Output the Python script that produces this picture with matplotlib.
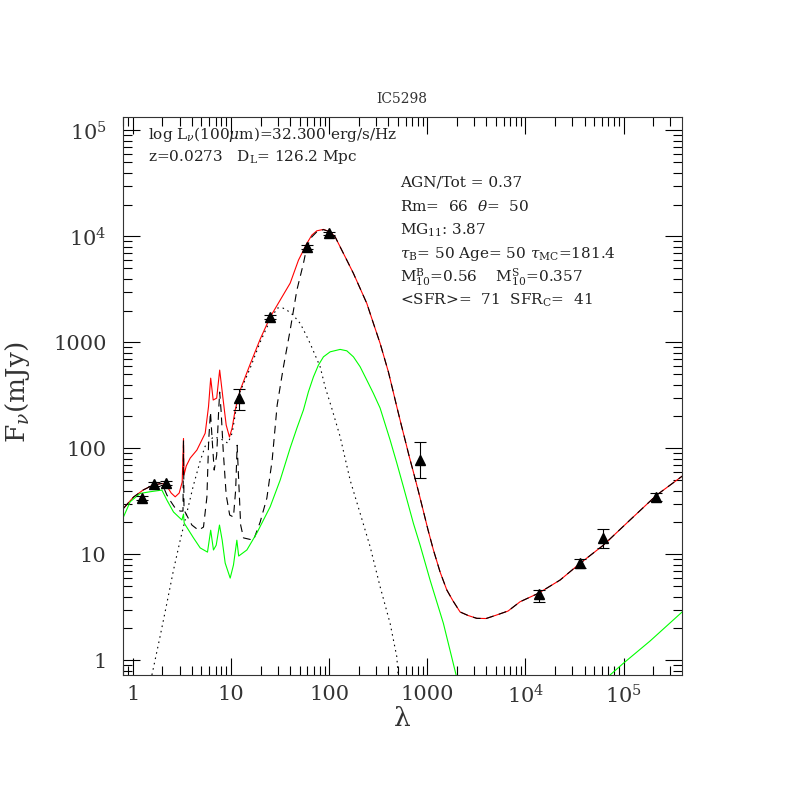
import numpy as np
import matplotlib
matplotlib.use('Agg')
from matplotlib import pyplot as plt
from matplotlib.ticker import FixedLocator, FixedFormatter, LogLocator, NullFormatter

plt.rcParams['font.family'] = ['DejaVu Serif']
plt.rcParams['mathtext.fontset'] = 'dejavuserif'

# observed photometry (micron, mJy)
lam_obs = [1.25, 1.65, 2.2, 12.0, 25.0, 60.0, 100.0, 850.0, 13600, 35700, 62000, 214000]
f_obs = [34.0, 46.0, 47.4, 296, 1722, 7980, 10670, 77.0, 4.22, 8.33, 14.2, 34.9]
f_hi = [35.5, 48.0, 49.5, 360, 1800, 8350, 11100, 114, 4.6, 8.95, 17.2, 37.6]
f_lo = [32.5, 44.0, 45.3, 230, 1650, 7600, 10250, 52.1, 3.57, 7.38, 11.4, 32.1]

# total model (red)
lam_tot = [0.804, 1.016, 1.276, 1.613, 1.978, 2.189, 2.46, 2.703, 2.968, 3.184, 3.283, 3.322,
           3.499, 3.842, 4.495, 5.461, 5.902, 6.214, 6.589, 7.152, 7.672, 8.329, 8.937, 9.654,
           10.28, 11.03, 12.41, 15.69, 19.84, 25.07, 31.7, 40.1, 48.7, 59.3, 66.6, 74.9, 87.5,
           102.3, 115.1, 129.4, 151.4, 176.8, 206.9, 242, 282.6, 330.6, 363, 401.8, 443, 489,
           541, 594, 653, 722, 806, 906, 1019, 1154, 1350, 1580, 1830, 2158, 2600, 3192, 3970,
           5103, 6650, 8810, 13530, 22510, 35970, 62140, 116200, 217300, 396100]
f_tot = [27.2, 34.7, 40.5, 45.1, 46.7, 45.1, 37.9, 34.9, 37.9, 48.1, 124, 56.0,
         68.1, 81.0, 96.4, 139, 247, 460, 286, 298, 548, 286, 166, 128,
         156, 230, 355, 624, 1074, 1733, 2507, 3625, 5972, 8590, 10290, 11300, 11650,
         11050, 9910, 7980, 5975, 4480, 3231, 2334, 1511, 979, 727, 525, 362, 247,
         169, 120, 84.5, 59.7, 40.4, 26.2, 16.9, 11.0, 6.81, 4.61, 3.63, 2.86, 2.65, 2.49, 2.48,
         2.68, 2.92, 3.57, 4.29, 5.72, 8.22, 12.2, 21.1, 36.3, 54.8]

# starburst (dashed), up to the far-IR peak
lam_sb = [0.804, 1.016, 1.276, 1.613, 1.978, 2.225, 2.46, 2.703, 3.039, 3.245, 3.283, 3.322,
          4.0, 4.667, 5.248, 5.684, 5.93, 6.183, 6.435, 6.745, 7.152, 7.494, 7.672, 7.947,
          8.329, 8.937, 9.701, 10.6, 11.16, 11.56, 11.98, 12.55, 13.41, 16.95, 19.84, 23.21,
          26.28, 29.54, 34.24, 40.08, 46.9, 54.7, 59.3, 66.6, 74.9, 87.5]
f_sb = [27.2, 34.7, 40.5, 45.1, 46.7, 36.3, 31.1, 27.3, 25.6, 25.6, 120, 26.2,
        18.9, 16.9, 18.1, 34.7, 120, 220, 120, 62.4, 86.4, 230, 340, 220,
        96.4, 36.3, 23.5, 22.5, 40.4, 107, 50.2, 18.9, 14.3, 13.6, 20.2, 34.0,
        77.6, 256, 589, 1306, 3113, 5559, 7980, 9900, 11050, 11590]

# AGN (dotted)
lam_agn = [1.565, 1.901, 2.225, 2.597, 3.039, 3.556, 4.122, 4.858, 5.461, 6.589, 7.762, 9.3,
           10.3, 11.84, 15.69, 19.84, 25.07, 29.54, 33.2, 37.09, 43.0, 50.7, 57.0, 64.0, 72.0,
           80.97, 91.1, 106.5, 129.4, 163.6, 206.9, 261.6, 330.6, 418, 489, 504]
f_agn = [0.727, 1.70, 3.47, 7.11, 13.6, 24.8, 44.0, 76.0, 105, 128, 124, 112,
         140, 311, 572, 1007, 1624, 2109, 2130, 2018, 1811, 1511, 1224, 979, 759,
         589, 379, 238, 129, 50.2, 24.4, 11.8, 4.95, 2.23, 1.08, 0.727]

# green component
lam_gr = [0.804, 0.941, 1.19, 1.504, 1.978, 2.225, 2.597, 3.162, 3.283, 3.338, 4.151, 4.858,
          5.765, 6.214, 6.632, 7.07, 7.637, 8.137, 8.728, 9.815, 10.6, 11.48, 11.98, 14.52,
          18.35, 25.07, 31.7, 40.1, 46.9, 54.7, 61.5, 69.2, 77.8, 87.5, 102.4, 129.4, 151.4,
          176.8, 206.9, 242, 282.6, 330.6, 418, 489, 571, 722, 845, 1068, 1459, 1965]
f_gr = [22.6, 31.4, 37.6, 39.0, 40.4, 32.5, 25.1, 21.1, 24.0, 19.7, 14.3, 11.5,
        10.5, 16.9, 11.0, 12.2, 18.9, 13.6, 8.28, 5.97, 7.93, 13.6, 9.64, 11.0,
        15.9, 28.1, 50.2, 101, 155, 230, 342, 473, 611, 731, 815, 859, 833,
        731, 589, 441, 330, 240, 120, 72.7, 43.4, 19.6, 12.2, 5.71, 2.23, 0.727]
lam_gr2 = [72700, 99300, 185700, 396100]
f_gr2 = [0.727, 0.937, 1.52, 2.87]

W = 797
fig = plt.figure(figsize=(7.97, 7.97), dpi=100)
ax = fig.add_axes([123.3 / W, (W - 675) / W, (682.3 - 123.3) / W, (675 - 117) / W])
ax.set_xscale('log')
ax.set_yscale('log')
ax.set_xlim(0.80, 3.96e5)
ax.set_ylim(0.727, 1.34e5)

lw = 0.8
ax.plot(lam_tot, f_tot, color='#ff0000', lw=lw)
tail = [i for i, l in enumerate(lam_tot) if l > lam_sb[-1]]
ax.plot(lam_sb + [lam_tot[i] for i in tail], f_sb + [f_tot[i] for i in tail],
        color='black', lw=lw, dashes=(7, 5))
ax.plot(lam_agn, f_agn, color='black', lw=lw, dashes=(1.4, 3.5))
ax.plot(lam_gr, f_gr, color='#00ff00', lw=lw)
ax.plot(lam_gr2, f_gr2, color='#00ff00', lw=lw)

yerr = [np.array(f_obs) - np.array(f_lo), np.array(f_hi) - np.array(f_obs)]
ax.errorbar(lam_obs, f_obs, yerr=yerr, fmt='^', color='black', ms=7.5,
            lw=0.8, capsize=4, capthick=0.8)

# ticks
xmaj = [1, 10, 100, 1000, 1e4, 1e5]
xlab = ['1', '10', '100', '1000', r'$10^4$', r'$10^5$']
ymaj = [1, 10, 100, 1000, 1e4, 1e5]
ylab = ['1', '10', '100', '1000', r'$10^4$', r'$10^5$']
ax.xaxis.set_major_locator(FixedLocator(xmaj))
ax.xaxis.set_major_formatter(FixedFormatter(xlab))
ax.yaxis.set_major_locator(FixedLocator(ymaj))
ax.yaxis.set_major_formatter(FixedFormatter(ylab))
ax.xaxis.set_minor_locator(LogLocator(base=10, subs=np.arange(2, 10), numticks=20))
ax.yaxis.set_minor_locator(LogLocator(base=10, subs=np.arange(2, 10), numticks=20))
ax.xaxis.set_minor_formatter(NullFormatter())
ax.yaxis.set_minor_formatter(NullFormatter())
ax.tick_params(which='both', direction='in', top=True, right=True, width=0.8, colors='black')
ax.tick_params(which='major', length=12)
ax.tick_params(which='minor', length=6.5)
ax.tick_params(axis='x', which='major', labelsize=15, pad=7, labelcolor='#333333')
ax.tick_params(axis='y', which='major', labelsize=15, pad=12, labelcolor='#333333')
for s in ax.spines.values():
    s.set_linewidth(0.8)
    s.set_color('#333333')

# labels
fig.text(402 / W, 1 - 99 / W, 'IC5298', ha='center', va='center', fontsize=10, color='#333333')
fig.text(18 / W, 1 - 392 / W, r'F$_\nu$(mJy)', ha='center', va='center', rotation=90,
         fontsize=19, color='#333333')
fig.text(402 / W, 1 - 718 / W, '\u03bb', ha='center', va='center', fontsize=19, color='#333333')

fs = 11
c = '#222222'
fig.text(148 / W, 1 - 134 / W, r'log L$_\nu$(100$\mu$m)=32.300 erg/s/Hz', va='center', fontsize=fs, color=c)
fig.text(148 / W, 1 - 157 / W, r'z=0.0273   D$_{\rm L}$= 126.2 Mpc', va='center', fontsize=fs, color=c)
fig.text(400 / W, 1 - 183 / W, 'AGN/Tot = 0.37', va='center', fontsize=fs, color=c)
fig.text(400 / W, 1 - 207 / W, r'Rm=  66  $\theta$=  50', va='center', fontsize=fs, color=c)
fig.text(400 / W, 1 - 230 / W, r'MG$_{11}$: 3.87', va='center', fontsize=fs, color=c)
fig.text(400 / W, 1 - 254 / W, r'$\tau_{\rm B}$= 50 Age= 50 $\tau_{\rm MC}$=181.4', va='center', fontsize=fs, color=c)
fig.text(400 / W, 1 - 277 / W, r'M$^{\rm B}_{10}$=0.56    M$^{\rm S}_{10}$=0.357', va='center', fontsize=fs, color=c)
fig.text(400 / W, 1 - 300 / W, r'<SFR>=  71  SFR$_{\rm C}$=  41', va='center', fontsize=fs, color=c)

fig.savefig('out.png', dpi=100)
